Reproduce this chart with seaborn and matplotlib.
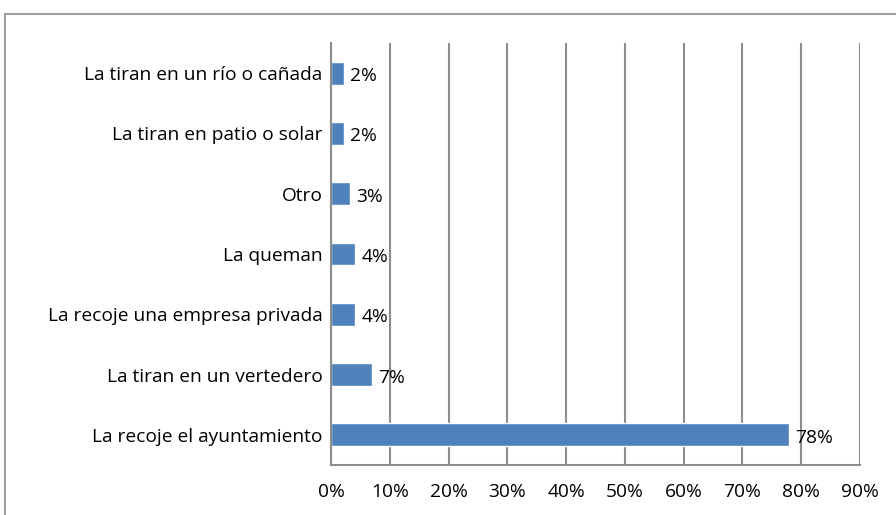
import matplotlib
matplotlib.use("Agg")
import matplotlib.pyplot as plt
import matplotlib.patches as patches
import numpy as np
import pandas as pd
import seaborn as sns

# Datos
categorias = [
    "La tiran en un río o cañada",
    "La tiran en patio o solar",
    "Otro",
    "La queman",
    "La recoje una empresa privada",
    "La tiran en un vertedero",
    "La recoje el ayuntamiento",
]
porcentajes = [2.2, 2.2, 3.2, 4.1, 4.1, 7.0, 77.9]
etiquetas = ["2%", "2%", "3%", "4%", "4%", "7%", "78%"]
ticks_x = [0, 10, 20, 30, 40, 50, 60, 70, 80, 90]

df = pd.DataFrame({"categoria": categorias, "pct": porcentajes})

sns.set_style("white")
plt.rcParams["font.family"] = ["Open Sans", "DejaVu Sans"]

gris = "#8c8c8c"
tam = 13.8
fig = plt.figure(figsize=(8.96, 5.15), dpi=100)
ax = fig.add_axes([331 / 896, 1 - 465 / 515, 529 / 896, 422 / 515])

sns.barplot(data=df, y="categoria", x="pct", orient="h", color="#4f81bd",
            saturation=1, width=0.38, ax=ax)

for i, (v, t) in enumerate(zip(porcentajes, etiquetas)):
    ax.text(v + 1.1, i + 0.05, t, va="center", ha="left", fontsize=tam, color="black")

ax.set_xlim(0, 90)
ax.set_ylim(6.5, -0.5)
ax.set_xticks(ticks_x)
ax.set_xticklabels([f"{t}%" for t in ticks_x], fontsize=tam, color="black")
ax.set_ylabel("")
ax.set_xlabel("")
ax.tick_params(axis="y", length=0, labelsize=tam, labelcolor="black", pad=6)
ax.set_yticks(np.arange(-0.5, 7, 1), minor=True)
ax.tick_params(axis="y", which="minor", length=5, color=gris, width=1.5, direction="out")
ax.tick_params(axis="x", length=7, color=gris, width=1.5, direction="out", pad=6)

ax.grid(axis="x", color=gris, linewidth=1.5)
ax.set_axisbelow(True)
for s in ["top", "right"]:
    ax.spines[s].set_visible(False)
for s in ["left", "bottom"]:
    ax.spines[s].set_color(gris)
    ax.spines[s].set_linewidth(1.5)

# marco exterior del gráfico
marco = patches.Rectangle((5 / 896, -0.1), 2, 0.1 + (515 - 14) / 515,
                          transform=fig.transFigure, fill=False,
                          edgecolor="#a0a0a0", linewidth=1.5)
fig.patches.append(marco)

fig.savefig("out.png", dpi=100)
